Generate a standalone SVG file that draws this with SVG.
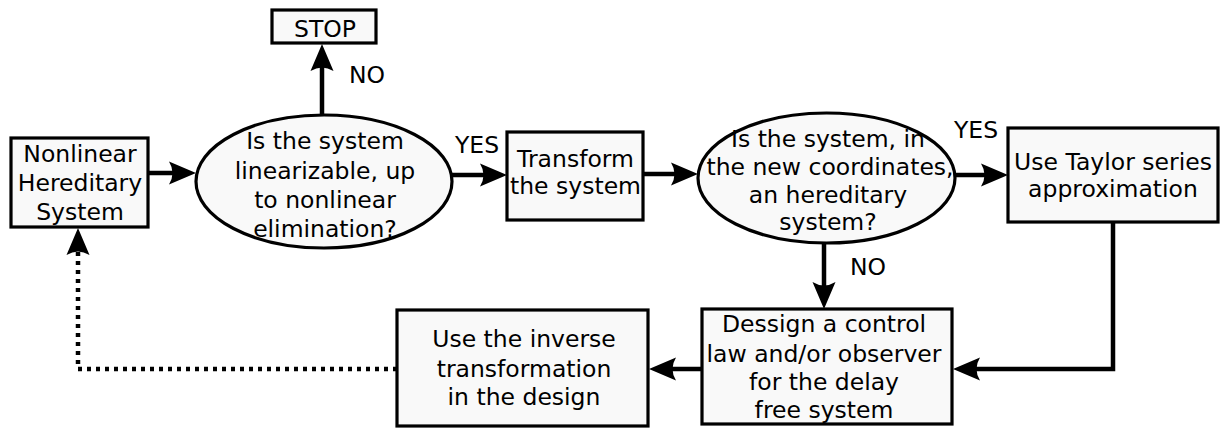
<svg xmlns="http://www.w3.org/2000/svg" width="1220" height="429" viewBox="0 0 1220 429">
  <style>
    .box { fill: #f9f9f9; stroke: #000; stroke-width: 3.2; }
    .lbl { font-family: "DejaVu Sans", "Liberation Sans", sans-serif; font-size: 23.5px; fill: #000; text-anchor: middle; }
    .edge { fill: none; stroke: #000; stroke-width: 4.5; marker-end: url(#head); }
    .dotted { stroke-dasharray: 4 5; }
  </style>
  <defs>
    <marker id="head" markerUnits="userSpaceOnUse" markerWidth="30" markerHeight="26" viewBox="0 -13 30 26" refX="12" refY="0" orient="auto" overflow="visible">
      <path d="M27,0 L0,-11.5 Q7,0 0,11.5 Z" fill="#000"/>
    </marker>
  </defs>

  <!-- connectors -->
  <g id="connectors">
    <path class="edge" d="M148,173 H181"/>
    <path class="edge" d="M322,115 V59"/>
    <path class="edge" d="M452,175 H492"/>
    <path class="edge" d="M643,174 H683"/>
    <path class="edge" d="M955,175 H993"/>
    <path class="edge" d="M824,243 V294"/>
    <path class="edge" d="M1113,222 V369 H968"/>
    <path class="edge" d="M702,369 H664"/>
    <path class="edge dotted" d="M397,369 H78 V243"/>
    <text class="lbl" x="367" y="83">NO</text>
    <text class="lbl" x="477" y="153">YES</text>
    <text class="lbl" x="976" y="138">YES</text>
    <text class="lbl" x="868" y="275">NO</text>
  </g>

  <g id="stop">
    <rect class="box" x="272" y="10" width="104" height="33"/>
    <text class="lbl" x="325" y="36.5">STOP</text>
  </g>

  <g id="system">
    <rect class="box" x="11" y="138" width="137" height="89"/>
    <text class="lbl" x="80" y="161.5">Nonlinear</text>
    <text class="lbl" x="80" y="190.5">Hereditary</text>
    <text class="lbl" x="80" y="220">System</text>
  </g>

  <g id="linearizable">
    <ellipse class="box" cx="324" cy="181.5" rx="128" ry="66.5"/>
    <text class="lbl" x="325" y="149">Is the system</text>
    <text class="lbl" x="325" y="179">linearizable, up</text>
    <text class="lbl" x="325" y="208">to nonlinear</text>
    <text class="lbl" x="325" y="237">elimination?</text>
  </g>

  <g id="transform">
    <rect class="box" x="507" y="132" width="136" height="88"/>
    <text class="lbl" x="575.5" y="166.5">Transform</text>
    <text class="lbl" x="575.5" y="194">the system</text>
  </g>

  <g id="hereditary">
    <ellipse class="box" cx="826.5" cy="178" rx="128.5" ry="65"/>
    <text class="lbl" x="828" y="146.5">Is the system, in</text>
    <text class="lbl" x="830" y="175">the new coordinates,</text>
    <text class="lbl" x="828" y="202.5">an hereditary</text>
    <text class="lbl" x="828" y="230">system?</text>
  </g>

  <g id="taylor">
    <rect class="box" x="1008" y="128" width="210" height="94"/>
    <text class="lbl" x="1113" y="169.5">Use Taylor series</text>
    <text class="lbl" x="1113" y="197">approximation</text>
  </g>

  <g id="design">
    <rect class="box" x="702" y="309" width="250" height="115"/>
    <text class="lbl" x="824" y="331.5">Dessign a control</text>
    <text class="lbl" x="824" y="361.5">law and/or observer</text>
    <text class="lbl" x="824" y="390">for the delay</text>
    <text class="lbl" x="824" y="418">free system</text>
  </g>

  <g id="inverse">
    <rect class="box" x="397" y="310" width="251" height="116"/>
    <text class="lbl" x="524" y="346.5">Use the inverse</text>
    <text class="lbl" x="524" y="376.5">transformation</text>
    <text class="lbl" x="524" y="405">in the design</text>
  </g>
</svg>
